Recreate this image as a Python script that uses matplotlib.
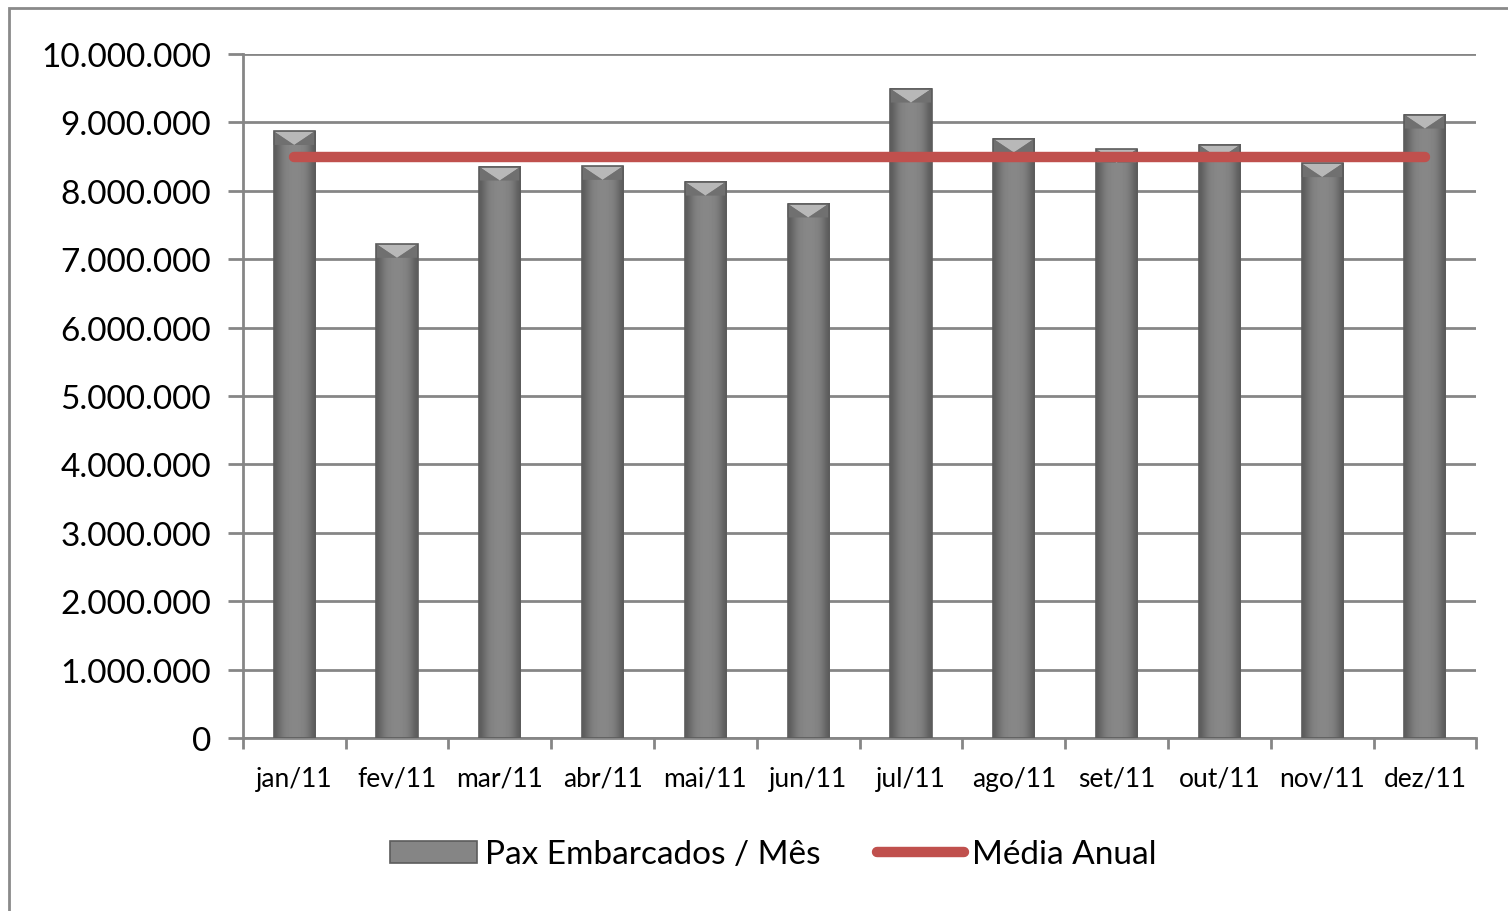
import numpy as np
import matplotlib.pyplot as plt
from matplotlib.patches import Polygon, Rectangle, Patch
from matplotlib.lines import Line2D
from matplotlib.ticker import FuncFormatter, MultipleLocator

plt.rcParams['font.family'] = ['Lato', 'DejaVu Sans']

# monthly boarded passengers, 2011
meses = ['jan/11', 'fev/11', 'mar/11', 'abr/11', 'mai/11', 'jun/11',
         'jul/11', 'ago/11', 'set/11', 'out/11', 'nov/11', 'dez/11']
pax = [8870000, 7220000, 8350000, 8360000, 8130000, 7810000,
       9490000, 8760000, 8610000, 8670000, 8400000, 9110000]
media = [8500000] * 12

fig = plt.figure(figsize=(15.08, 9.12), dpi=100)
ax = fig.add_axes([0.161, 0.1897, 0.818, 0.7500])

x = np.arange(len(meses))
w = 0.40
grad = np.array([[0.36, 0.44, 0.50, 0.52, 0.53, 0.53, 0.52, 0.50, 0.44, 0.36]])
for xi, h in zip(x, pax):
    x0, x1 = xi - w / 2, xi + w / 2
    ax.imshow(grad, cmap='gray', vmin=0, vmax=1, extent=(x0, x1, 0, h),
              aspect='auto', interpolation='bicubic', zorder=3)
    d = 200000
    ax.add_patch(Polygon([(x0, h), (x1, h), (xi, h - d)], closed=True,
                         facecolor='#b8b8b8', edgecolor='none', zorder=4))
    ax.add_patch(Polygon([(x0, h), (xi, h - d), (x0, h - d)], closed=True,
                         facecolor='#707070', edgecolor='none', zorder=4))
    ax.add_patch(Polygon([(x1, h), (xi, h - d), (x1, h - d)], closed=True,
                         facecolor='#707070', edgecolor='none', zorder=4))
    ax.add_patch(Rectangle((x0, 0), w, h, facecolor='none',
                           edgecolor='#5c5c5c', lw=1.2, zorder=5))

ax.plot(x, media, color='#C0504D', lw=7.5, solid_capstyle='round', zorder=6)

ax.set_xlim(-0.5, len(meses) - 0.5)
ax.set_ylim(0, 10000000)
ax.yaxis.set_major_locator(MultipleLocator(1000000))
ax.yaxis.set_major_formatter(FuncFormatter(lambda v, p: f'{int(v):,}'.replace(',', '.')))
ax.set_xticks(x)
ax.set_xticklabels(meses, fontsize=19)
ax.set_xticks(np.arange(-0.5, len(meses)), minor=True)
ax.tick_params(axis='x', which='major', length=0, pad=20)
ax.tick_params(axis='x', which='minor', length=8, width=2, color='#868686')
ax.tick_params(axis='y', length=11, width=2, color='#868686', labelsize=24, pad=12)

ax.grid(axis='y', color='#868686', lw=2, zorder=0)
for s in ['top', 'right']:
    ax.spines[s].set_visible(False)
for s in ['left', 'bottom']:
    ax.spines[s].set_color('#868686')
    ax.spines[s].set_linewidth(2)

handles = [Patch(facecolor='#858585', edgecolor='#5c5c5c', lw=1.2),
           Line2D([0], [0], color='#C0504D', lw=7.5, solid_capstyle='round')]
fig.legend(handles, ['Pax Embarcados / Mês', 'Média Anual'], loc='center',
           bbox_to_anchor=(0.513, 0.062), ncol=2, frameon=False, fontsize=24,
           handlelength=2.6, handleheight=0.65, handletextpad=0.25, columnspacing=1.7)

fig.add_artist(Rectangle((9 / 1508, -0.1), 1.2, 1 - 9 / 912 + 0.1,
                         transform=fig.transFigure, fill=False,
                         edgecolor='#8a8a8a', lw=2))

fig.savefig('out.png', dpi=100)
